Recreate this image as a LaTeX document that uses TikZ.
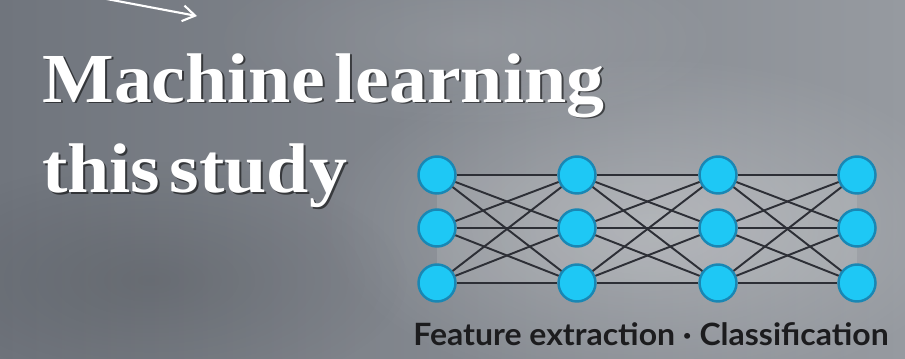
\documentclass[tikz,border=0pt]{standalone}
\usepackage{fontspec}
\setmainfont{Liberation Serif}
\newfontfamily\labfont{Lato}
\usetikzlibrary{arrows.meta,fadings}
\tikzfading[name=softout, inner color=transparent!0, outer color=transparent!100]
\definecolor{bgL}{RGB}{112,117,125}
\definecolor{bgR}{RGB}{150,154,160}
\definecolor{nodefill}{RGB}{30,200,245}
\definecolor{nodeedge}{RGB}{25,135,180}
\definecolor{edgecol}{RGB}{45,47,54}
\definecolor{labcol}{RGB}{28,28,30}
\tikzset{
  neuron/.style={circle,minimum size=37*0.02cm,inner sep=0pt,fill=nodefill,draw=nodeedge,line width=1.4pt},
  conn/.style={edgecol,line width=1.1pt},
  titletext/.style={anchor=base west,inner sep=0pt,font=\fontsize{40}{40}\selectfont\bfseries,xscale=1.08},
}
\begin{document}
\begin{tikzpicture}[x=0.02cm,y=-0.02cm]
\useasboundingbox (0,0) rectangle (905,358);
\shade[left color=bgL,right color=bgR] (0,0) rectangle (905,358);
\fill[white,opacity=0.25,path fading=softout] (650,225) ellipse (330 and 170);
\fill[black,opacity=0.12,path fading=softout] (150,280) ellipse (260 and 120);
\fill[white,opacity=0.10,path fading=softout] (470,40) ellipse (260 and 90);
% arrow
\coordinate (a0) at (96,-3);
\coordinate (a1) at (197,16);
\draw[white,line width=1.2pt,-{Straight Barb[length=7pt,width=9pt]}] (a0) -- (a1);
% title with shadow
\node[titletext,black,opacity=0.55] (t1s) at (44,104) {Machine\hspace{5pt}learning};
\node[titletext,white] (t1) at (42,102) {Machine\hspace{5pt}learning};
\node[titletext,black,opacity=0.55] (t2s) at (44,194) {this\hspace{5pt}study};
\node[titletext,white] (t2) at (42,192) {this\hspace{5pt}study};
% network
\fill[white,opacity=0.12] (437,175) rectangle (857,283);
\foreach \c/\x in {1/437,2/577,3/718,4/857}{
  \foreach \r/\y in {1/175,2/228,3/283}{
    \node[neuron] (n\c\r) at (\x,\y) {};
  }
}
\foreach \c/\d in {1/2,2/3,3/4}{
  \foreach \r in {1,2,3}{
    \foreach \s in {1,2,3}{
      \draw[conn] (n\c\r) -- (n\d\s);
    }
  }
}
\node[anchor=base,inner sep=0pt,text=labcol,font=\labfont\fontsize{17.5}{17.5}\selectfont\bfseries,xscale=1.04] (lab) at (651,345) {Feature extraction · Classification};
\end{tikzpicture}
\end{document}
